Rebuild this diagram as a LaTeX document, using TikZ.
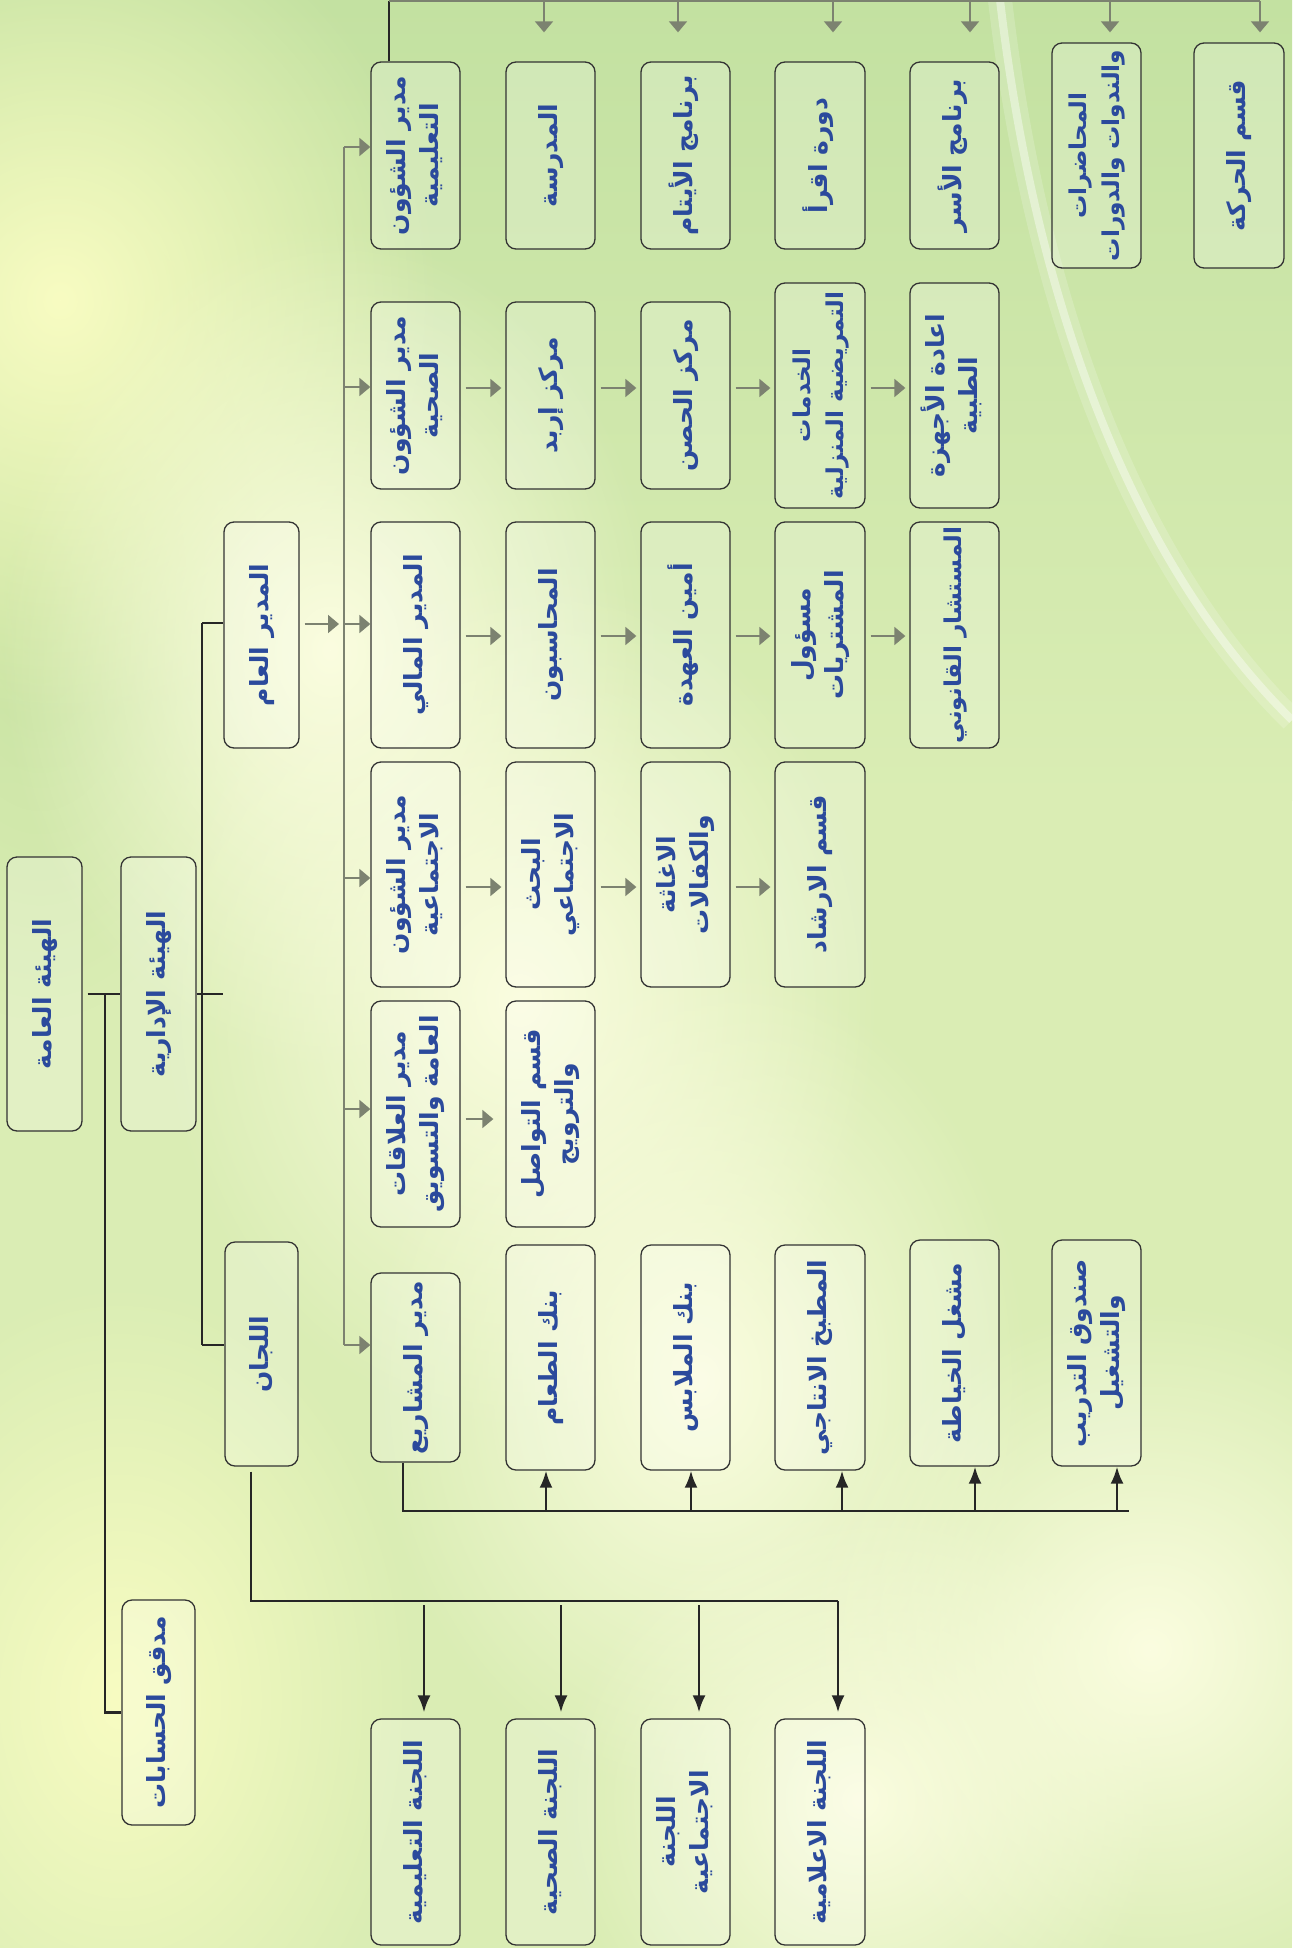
\documentclass[tikz,border=0pt]{standalone}
\usepackage{fontspec}
\usepackage{graphicx}
\usetikzlibrary{arrows.meta,fadings,calc}
\TeXXeTstate=1
\newfontfamily\arabicfont[Script=Arabic]{DejaVu Sans}
\definecolor{txtblue}{HTML}{2B4A9C}
\definecolor{glinec}{HTML}{7C8270}
\definecolor{bgbase}{HTML}{DAEDB4}
\definecolor{bgtop}{HTML}{C3E1A1}
\definecolor{bgpale}{HTML}{FBFDE0}
\definecolor{bgyellow}{HTML}{F8FCC2}
\definecolor{bggreen}{HTML}{C8E3A2}
\tikzfading[name=myglow, inner color=transparent!0, outer color=transparent!100]
\newcommand\arl[1]{\beginR #1\endR}
\newcommand\rtx[1]{\rotatebox{90}{\begin{tabular}{@{}c@{}}#1\end{tabular}}}
\newcommand\smallfs{\fontsize{11.6}{16.5}\selectfont}
\tikzset{
  box/.style={draw=black!80, line width=0.65pt, rounded corners=5pt, fill=white, fill opacity=0.22, text opacity=1, inner sep=0pt, text=txtblue, font={\arabicfont\bfseries\fontsize{12.5}{16.5}\selectfont}},
  blk/.style={draw=black!85, line width=1.25pt},
  blkarr/.style={blk, -{Latex[length=8.5pt,width=6.5pt]}},
  gl/.style={draw=glinec, line width=0.95pt},
  garr/.style={gl, -{Triangle[length=5.5pt,width=9pt]}}
}
\newcommand\bnode[6]{\node[box, minimum width={(#4-#2)*0.5}, minimum height={(#5-#3)*0.5}] (#1) at ({(#2+#4)/2},{(#3+#5)/2}) {\rtx{#6}};}
\begin{document}
\begin{tikzpicture}[x=0.5pt,y=-0.5pt]
\useasboundingbox (0,0) rectangle (1292,1948);
% background
\fill[bgbase] (0,0) rectangle (1292,1948);
\shade[top color=bgtop, bottom color=bgbase] (0,0) rectangle (1292,800);
\fill[bggreen, path fading=myglow] (40,600) ellipse [x radius=220, y radius=420];
\fill[bgyellow, path fading=myglow] (60,300) ellipse [x radius=380, y radius=420];
\fill[bgyellow, path fading=myglow] (120,1700) ellipse [x radius=300, y radius=420];
\fill[bgpale, path fading=myglow] (330,650) ellipse [x radius=330, y radius=420];
\fill[bgpale, path fading=myglow] (520,1000) ellipse [x radius=360, y radius=430];
\fill[bgpale, path fading=myglow] (700,1380) ellipse [x radius=330, y radius=420];
\fill[bgpale, path fading=myglow] (860,1800) ellipse [x radius=300, y radius=300];
\fill[bgpale, path fading=myglow] (1150,1650) ellipse [x radius=350, y radius=350];
\draw[white, line width=12pt, opacity=0.18] (1000,0) .. controls (1035,300) and (1130,560) .. (1292,720);
\draw[white, line width=4pt, opacity=0.4] (1000,0) .. controls (1035,300) and (1130,560) .. (1292,720);

% nodes
\bnode{hA}{7}{857}{82}{1131}{\arl{الهيئة العامة}}
\bnode{hI}{121}{857}{196}{1131}{\arl{الهيئة الإدارية}}
\bnode{aud}{122}{1600}{195}{1825}{\arl{مدقق الحسابات}}
\bnode{gm}{224}{522}{299}{748}{\arl{المدير العام}}
\bnode{com}{225}{1242}{298}{1466}{\arl{اللجان}}

\bnode{m1}{371}{62}{460}{249}{\arl{مدير الشؤون}\\\arl{التعليمية}}
\bnode{m2}{371}{302}{460}{489}{\arl{مدير الشؤون}\\\arl{الصحية}}
\bnode{m3}{371}{522}{460}{748}{\arl{المدير المالي}}
\bnode{m4}{371}{762}{460}{987}{\arl{مدير الشؤون}\\\arl{الاجتماعية}}
\bnode{m5}{371}{1001}{460}{1227}{\arl{مدير العلاقات}\\\arl{العامة والتسويق}}
\bnode{m6}{371}{1273}{460}{1462}{\arl{مدير المشاريع}}
\bnode{k1}{371}{1719}{460}{1945}{\arl{اللجنة التعليمية}}

\bnode{b1}{506}{62}{595}{249}{\arl{المدرسة}}
\bnode{b2}{506}{302}{595}{489}{\arl{مركز إربد}}
\bnode{b3}{506}{522}{595}{748}{\arl{المحاسبون}}
\bnode{b4}{506}{762}{595}{987}{\arl{البحث}\\\arl{الاجتماعي}}
\bnode{b5}{506}{1001}{595}{1227}{\arl{قسم التواصل}\\\arl{والترويج}}
\bnode{b6}{506}{1245}{595}{1470}{\arl{بنك الطعام}}
\bnode{k2}{506}{1719}{595}{1945}{\arl{اللجنة الصحية}}

\bnode{c1}{641}{62}{730}{249}{\arl{برنامج الأيتام}}
\bnode{c2}{641}{302}{730}{489}{\arl{مركز الحصن}}
\bnode{c3}{641}{522}{730}{748}{\arl{أمين العهدة}}
\bnode{c4}{641}{762}{730}{987}{\arl{الاغاثة}\\\arl{والكفالات}}
\bnode{c6}{641}{1245}{730}{1470}{\arl{بنك الملابس}}
\bnode{k3}{641}{1719}{730}{1945}{\arl{اللجنة}\\\arl{الاجتماعية}}

\bnode{d1}{775}{62}{865}{249}{\arl{دورة اقرأ}}
\bnode{d2}{775}{283}{865}{508}{\smallfs\arl{الخدمات}\\\smallfs\arl{التمريضية المنزلية}}
\bnode{d3}{775}{522}{865}{748}{\arl{مسؤول}\\\arl{المشتريات}}
\bnode{d4}{775}{762}{865}{987}{\arl{قسم الارشاد}}
\bnode{d6}{775}{1245}{865}{1470}{\arl{المطبخ الانتاجي}}
\bnode{k4}{775}{1719}{865}{1945}{\arl{اللجنة الاعلامية}}

\bnode{e1}{910}{62}{999}{249}{\arl{برنامج الأسر}}
\bnode{e2}{910}{283}{999}{508}{\arl{اعادة الأجهزة}\\\arl{الطبية}}
\bnode{e3}{910}{522}{999}{748}{\smallfs\arl{المستشار القانوني}}
\bnode{e6}{910}{1240}{999}{1466}{\arl{مشغل الخياطة}}

\bnode{f1}{1052}{43}{1141}{268}{\smallfs\arl{المحاضرات}\\\smallfs\arl{والندوات والدورات}}
\bnode{f6}{1052}{1240}{1141}{1466}{\arl{صندوق التدريب}\\\arl{والتشغيل}}
\bnode{g1}{1194}{43}{1284}{268}{\arl{قسم الحركة}}

% left black connectors
\coordinate (J) at (105,994);
\draw[blk, shorten <=2.5pt] (hA.east) -- (hI.west);
\draw[blk] (J) |- (aud.west);
\coordinate (V1) at (202,623);
\coordinate (V2) at (202,1345);
\draw[blk] (V1) -- (V2);
\draw[blk] (hI.east) -- ++(26,0);
\draw[blk] (V1) -- (V1 -| gm.west);
\draw[blk] (V2) -- (V2 -| com.west);

% gray trunk
\coordinate (Q1) at (344,147);
\coordinate (Q2) at (344,387);
\coordinate (Q3) at (344,624);
\coordinate (Q4) at (344,878);
\coordinate (Q5) at (344,1109);
\coordinate (Q6) at (344,1345);
\draw[gl] (Q1) -- (Q6);
\draw[garr, shorten <=2.5pt, shorten >=2.5pt] (Q3 -| gm.east) -- (Q3);
\draw[garr] (Q1) -- (Q1 -| m1.west);
\draw[garr] (Q2) -- (Q2 -| m2.west);
\draw[garr] (Q3) -- (Q3 -| m3.west);
\draw[garr] (Q4) -- (Q4 -| m4.west);
\draw[garr] (Q5) -- (Q5 -| m5.west);
\draw[garr] (Q6) -- (Q6 -| m6.west);

% row arrows
\coordinate (R2) at (0,388);
\coordinate (R3) at (0,636);
\coordinate (R4) at (0,887);
\coordinate (R5) at (0,1119);
\tikzset{rarr/.style={garr, shorten <=2.5pt, shorten >=2pt}}
\draw[rarr] (R2 -| m2.east) -- (R2 -| b2.west);
\draw[rarr] (R2 -| b2.east) -- (R2 -| c2.west);
\draw[rarr] (R2 -| c2.east) -- (R2 -| d2.west);
\draw[rarr] (R2 -| d2.east) -- (R2 -| e2.west);
\draw[rarr] (R3 -| m3.east) -- (R3 -| b3.west);
\draw[rarr] (R3 -| b3.east) -- (R3 -| c3.west);
\draw[rarr] (R3 -| c3.east) -- (R3 -| d3.west);
\draw[rarr] (R3 -| d3.east) -- (R3 -| e3.west);
\draw[rarr] (R4 -| m4.east) -- (R4 -| b4.west);
\draw[rarr] (R4 -| b4.east) -- (R4 -| c4.west);
\draw[rarr] (R4 -| c4.east) -- (R4 -| d4.west);
\draw[rarr, shorten >=6pt] (R5 -| m5.east) -- (R5 -| b5.west);

% top distribution
\coordinate (T0) at (389,1);
\coordinate (T1) at (544,1);
\coordinate (T2) at (678,1);
\coordinate (T3) at (833,1);
\coordinate (T4) at (970,1);
\coordinate (T5) at (1110,1);
\coordinate (T6) at (1260,1);
\draw[blk] (m1.north -| T0) -- (T0);
\draw[gl, line width=1.4pt] (T0) -- (T6);
\draw[garr, shorten >=14.5pt] (T1) -- (T1 |- b1.north);
\draw[garr, shorten >=14.5pt] (T2) -- (T2 |- c1.north);
\draw[garr, shorten >=14.5pt] (T3) -- (T3 |- d1.north);
\draw[garr, shorten >=14.5pt] (T4) -- (T4 |- e1.north);
\draw[garr, shorten >=5pt] (T5) -- (T5 |- f1.north);
\draw[garr, shorten >=5pt] (T6) -- (T6 |- g1.north);

% projects
\coordinate (P0) at (403,1511);
\coordinate (P1) at (546,1511);
\coordinate (P2) at (691,1511);
\coordinate (P3) at (842,1511);
\coordinate (P4) at (975,1511);
\coordinate (P5) at (1117,1511);
\coordinate (P6) at (1129,1511);
\draw[blk] (m6.south -| P0) -- (P0) -- (P6);
\draw[blkarr] (P1) -- (P1 |- b6.south);
\draw[blkarr] (P2) -- (P2 |- c6.south);
\draw[blkarr] (P3) -- (P3 |- d6.south);
\draw[blkarr] (P4) -- (P4 |- e6.south);
\draw[blkarr] (P5) -- (P5 |- f6.south);

% committees
\coordinate (L0) at (251,1601);
\coordinate (L1) at (424,1601);
\coordinate (L2) at (561,1601);
\coordinate (L3) at (699,1601);
\coordinate (L4) at (838,1601);
\draw[blk, shorten <=2.5pt] (com.south -| L0) -- (L0) -- (L4);
\draw[blkarr, shorten <=2pt, shorten >=3pt] (L1) -- (L1 |- k1.north);
\draw[blkarr, shorten <=2pt, shorten >=3pt] (L2) -- (L2 |- k2.north);
\draw[blkarr, shorten <=2pt, shorten >=3pt] (L3) -- (L3 |- k3.north);
\draw[blkarr, shorten >=3pt] (L4) -- (L4 |- k4.north);
\end{tikzpicture}
\end{document}
